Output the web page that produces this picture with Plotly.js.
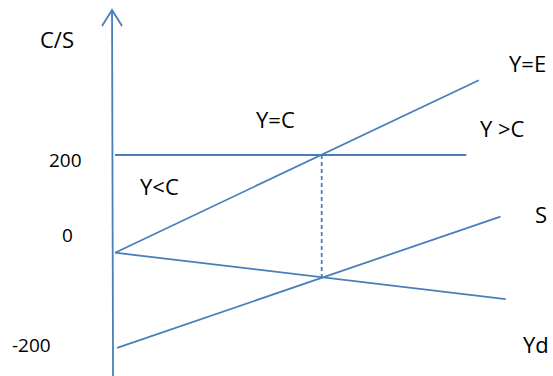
<!DOCTYPE html>
<html>
<head>
<meta charset="utf-8">
<script src="https://cdn.plot.ly/plotly-3.0.1.min.js"></script>
<style>
  html, body { margin: 0; padding: 0; background: #fff; }
  #chart { width: 553px; height: 376px; }
</style>
</head>
<body>
<div id="chart"></div>
<script>
// income Yd on x, C/S on y
var incomeLine = { x: [0, 352], y: [0, 353] };          // Y=E
var level200   = { x: [0, 340], y: [200, 200] };        // horizontal at 200
var consLine   = { x: [0, 378], y: [0, -95] };          // falling line
var saveLine   = { x: [2, 373], y: [-195, 74] };        // S
var eqLine     = { x: [200, 200], y: [200, -51] };      // dashed drop
var yAxisLine  = { x: [-2.9, -1.9], y: [497, -260] };
var arrowHead  = { x: [-12.6, -2.9, 6.8], y: [464, 497, 464] };

var tickValues = [200, 0, -200];
var tickLabels = ['200', '0', '-200'];

var labelText = ['C/S', 'Y=C', 'Y<C', 'Y=E', 'Y >C', 'S', 'Yd'];
var labelX    = [-56, 155, 43.5, 399.6, 375.4, 404, 407.4];
var labelY    = [437.5, 273.7, 136.5, 388.3, 255.3, 79, -186.7];

var blue = '#4a7ebb';

function seg(d, dash) {
  return {
    type: 'scatter', mode: 'lines', x: d.x, y: d.y,
    line: { color: blue, width: 1.8, dash: dash || 'solid' },
    hoverinfo: 'skip'
  };
}

var data = [
  seg(yAxisLine), seg(arrowHead),
  seg(level200), seg(incomeLine), seg(consLine), seg(saveLine),
  seg(eqLine, '4px,3px')
];

// tick label placement (px shifts from value position)
var tickX = [-48.4, -46.4, -81.3];
var tickShift = [-5, 18, 5];

var annotations = [];
tickValues.forEach(function (v, i) {
  annotations.push({
    x: tickX[i], y: v, text: tickLabels[i], showarrow: false,
    yshift: tickShift[i],
    font: { family: 'Open Sans, sans-serif', size: 19, color: '#000' }
  });
});
labelText.forEach(function (t, i) {
  annotations.push({
    x: labelX[i], y: labelY[i], text: t.replace('<', '&lt;').replace('>', '&gt;'),
    showarrow: false, xanchor: t === 'S' ? 'left' : 'center',
    font: { family: 'Open Sans, sans-serif', size: 22, color: '#000' }
  });
});

var layout = {
  width: 553,
  height: 376,
  margin: { l: 0, r: 0, t: 0, b: 0, pad: 0 },
  paper_bgcolor: '#fff',
  plot_bgcolor: '#fff',
  showlegend: false,
  hovermode: false,
  xaxis: { range: [-111.3, 423.8], visible: false, fixedrange: true },
  yaxis: { range: [-252.4, 517.3], visible: false, fixedrange: true },
  annotations: annotations
};

Plotly.newPlot('chart', data, layout, { displayModeBar: false, staticPlot: true });
</script>
</body>
</html>
